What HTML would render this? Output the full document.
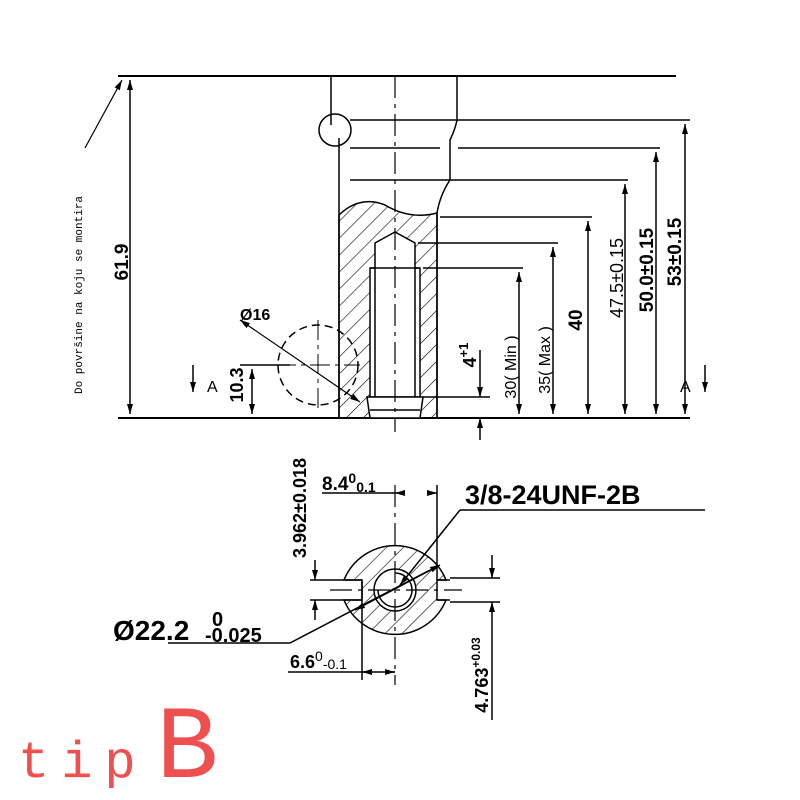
<!DOCTYPE html>
<html><head><meta charset="utf-8"><style>body{margin:0;background:#fff}svg{display:block}</style></head><body>
<svg width="800" height="800" viewBox="0 0 800 800" xmlns="http://www.w3.org/2000/svg" font-family="Liberation Sans, sans-serif">
<defs>
<marker id="a" markerWidth="10" markerHeight="6" refX="10" refY="3" orient="auto-start-reverse" markerUnits="userSpaceOnUse"><path d="M0,0 L10,3 L0,6z" fill="#000"/></marker>
<pattern id="h" width="12" height="12" patternUnits="userSpaceOnUse" patternTransform="rotate(45)"><line x1="0" y1="0" x2="0" y2="12" stroke="#000" stroke-width="1.2"/></pattern>
</defs>
<g stroke="#000" fill="none" stroke-width="1.5">
<line x1="118" y1="76" x2="676" y2="76" stroke-width="2"/>
<line x1="118" y1="418" x2="690" y2="418" stroke-width="2"/>
<line x1="130" y1="80" x2="130" y2="414" marker-start="url(#a)" marker-end="url(#a)"/>
<path d="M331,76 V125 M339,138 V418"/>
<circle cx="335" cy="130" r="16"/>
<path d="M457,76 V120 Q455,130 450,140 V180 Q440,195 437,213 V418"/>
<path d="M339,215 Q360,195 385,205 Q410,220 437,213 V418 H339 Z" fill="url(#h)"/>
<rect x="370" y="268" width="50" height="129" fill="#fff"/>
<path d="M375,243 L395,232 L415,243 V397 H375 Z" fill="#fff"/>
<line x1="370" y1="268" x2="420" y2="268"/>
<path d="M367,397 H423 L420,418 H370 Z" fill="#fff"/>
<line x1="370" y1="410" x2="420" y2="410"/>
<line x1="395" y1="76" x2="395" y2="432" stroke-dasharray="22,6,4,6" stroke-width="1.2"/>
<line x1="350" y1="120" x2="690" y2="120"/>
<line x1="350" y1="148" x2="440" y2="148"/><line x1="458" y1="148" x2="660" y2="148"/>
<line x1="350" y1="180" x2="628" y2="180"/>
<line x1="440" y1="217" x2="592" y2="217"/>
<line x1="418" y1="243" x2="558" y2="243"/>
<line x1="423" y1="268" x2="523" y2="268"/>
<line x1="423" y1="397" x2="490" y2="397"/>
<line x1="685" y1="124" x2="685" y2="414" marker-start="url(#a)" marker-end="url(#a)"/>
<line x1="656" y1="152" x2="656" y2="414" marker-start="url(#a)" marker-end="url(#a)"/>
<line x1="625" y1="184" x2="625" y2="414" marker-start="url(#a)" marker-end="url(#a)"/>
<line x1="588" y1="221" x2="588" y2="414" marker-start="url(#a)" marker-end="url(#a)"/>
<line x1="553" y1="247" x2="553" y2="414" marker-start="url(#a)" marker-end="url(#a)"/>
<line x1="519" y1="272" x2="519" y2="414" marker-start="url(#a)" marker-end="url(#a)"/>
<line x1="480" y1="350" x2="480" y2="397" marker-end="url(#a)"/>
<line x1="480" y1="440" x2="480" y2="418" marker-end="url(#a)"/>
<circle cx="318" cy="365" r="40" stroke-dasharray="8,5"/>
<line x1="276" y1="365" x2="360" y2="365" stroke-dasharray="20,5,4,5" stroke-width="1"/>
<line x1="318" y1="320" x2="318" y2="410" stroke-dasharray="20,5,4,5" stroke-width="1"/>
<line x1="240" y1="320" x2="360" y2="402" marker-start="url(#a)" marker-end="url(#a)" stroke-width="1.2"/>
<line x1="252" y1="369" x2="252" y2="414" marker-start="url(#a)" marker-end="url(#a)"/>
<line x1="240" y1="365" x2="290" y2="365"/>
<path d="M193,365 V392" marker-end="url(#a)"/>
<path d="M705,365 V392" marker-end="url(#a)"/>
<line x1="85" y1="148" x2="122" y2="80" marker-end="url(#a)" stroke-width="1.2"/>
<path d="M344,580 A55,55 0 0 1 446,580 H437 V600 H446 A55,55 0 0 1 344,600 H362 V580 Z" fill="url(#h)"/>
<path d="M362,580 H340 M362,600 H340 M437,580 H450 M437,600 H450"/>
<circle cx="395" cy="590" r="21" fill="#fff"/>
<path d="M395,573 A17,17 0 1 1 378,590" />
<line x1="395" y1="485" x2="395" y2="685" stroke-dasharray="22,6,4,6" stroke-width="1.2"/>
<line x1="362" y1="580" x2="362" y2="680"/>
<line x1="437" y1="485" x2="437" y2="580"/>
<line x1="330" y1="590" x2="462" y2="590" stroke-dasharray="22,6,4,6" stroke-width="1.2"/>
<line x1="322" y1="493" x2="395" y2="493"/>
<line x1="405" y1="493" x2="395" y2="493" marker-end="url(#a)"/>
<line x1="427" y1="493" x2="437" y2="493" marker-end="url(#a)"/>
<line x1="168" y1="643" x2="290" y2="643"/>
<line x1="290" y1="643" x2="430" y2="570"/>
<line x1="355" y1="610" x2="440" y2="565" marker-start="url(#a)" marker-end="url(#a)"/>
<line x1="460" y1="510" x2="705" y2="510"/>
<line x1="460" y1="510" x2="400" y2="585" marker-end="url(#a)"/>
<line x1="288" y1="672" x2="395" y2="672"/>
<line x1="372" y1="672" x2="362" y2="672" marker-end="url(#a)"/>
<line x1="385" y1="672" x2="395" y2="672" marker-end="url(#a)"/>
<line x1="310" y1="580" x2="340" y2="580"/><line x1="310" y1="600" x2="340" y2="600"/>
<line x1="315" y1="560" x2="315" y2="580" marker-end="url(#a)"/>
<line x1="315" y1="620" x2="315" y2="600" marker-end="url(#a)"/>
<line x1="450" y1="578" x2="500" y2="578"/><line x1="450" y1="602" x2="500" y2="602"/>
<line x1="492" y1="555" x2="492" y2="578" marker-end="url(#a)"/>
<line x1="492" y1="720" x2="492" y2="602" marker-end="url(#a)"/>
</g>
<g fill="#000">
<text x="0" y="0" transform="translate(128,262) rotate(-90)" font-size="19" font-weight="bold" text-anchor="middle">61.9</text>
<text x="0" y="0" transform="translate(681,252) rotate(-90)" font-size="19" font-weight="bold" text-anchor="middle">53±0.15</text>
<text x="0" y="0" transform="translate(653,270) rotate(-90)" font-size="19" font-weight="bold" text-anchor="middle">50.0±0.15</text>
<text x="0" y="0" transform="translate(623,278) rotate(-90)" font-size="18" text-anchor="middle">47.5±0.15</text>
<text x="0" y="0" transform="translate(582,320) rotate(-90)" font-size="19" font-weight="bold" text-anchor="middle">40</text>
<text x="0" y="0" transform="translate(550,360) rotate(-90)" font-size="16" text-anchor="middle">35( Max )</text>
<text x="0" y="0" transform="translate(516,367) rotate(-90)" font-size="16" text-anchor="middle">30( Min )</text>
<text x="0" y="0" transform="translate(476,355) rotate(-90)" font-size="18" font-weight="bold" text-anchor="middle">4<tspan dy="-8" font-size="13">+1</tspan></text>
<text x="0" y="0" transform="translate(243,385) rotate(-90)" font-size="18" font-weight="bold" text-anchor="middle">10.3</text>
<text x="240" y="320" font-size="16" font-weight="bold">Ø16</text>
<text x="207" y="392" font-size="16">A</text>
<text x="680" y="392" font-size="16">A</text>
<text x="0" y="0" transform="translate(82,295) rotate(-90)" font-size="11" font-family="Liberation Mono, monospace" text-anchor="middle">Do površine na koju se montira</text>
<text x="322" y="490" font-size="19" font-weight="bold">8.4<tspan dy="-7" font-size="14">0</tspan><tspan dy="9" font-size="14">0.1</tspan></text>
<text x="465" y="504" font-size="27" font-weight="bold">3/8-24UNF-2B</text>
<text x="0" y="0" transform="translate(306,508) rotate(-90)" font-size="18" font-weight="bold" text-anchor="middle">3.962±0.018</text>
<text x="113" y="640" font-size="28" font-weight="bold">Ø22.2</text>
<text x="212" y="626" font-size="20" font-weight="bold">0</text>
<text x="205" y="642" font-size="20" font-weight="bold">-0.025</text>
<text x="290" y="668" font-size="18" font-weight="bold">6.6<tspan dy="-7" font-size="14" font-weight="normal">0</tspan><tspan dy="8" font-size="14" font-weight="normal">-0.1</tspan></text>
<text x="0" y="0" transform="translate(488,675) rotate(-90)" font-size="18" font-weight="bold" text-anchor="middle">4.763<tspan dy="-8" font-size="12">+0.03</tspan></text>
</g>
<text x="18" y="777" font-size="52" fill="#ee5050" font-family="Liberation Mono, monospace" letter-spacing="12">tip</text>
<text x="156" y="777" font-size="104" fill="#ee5050" font-family="Liberation Mono, monospace">B</text>
</svg>
</body></html>
